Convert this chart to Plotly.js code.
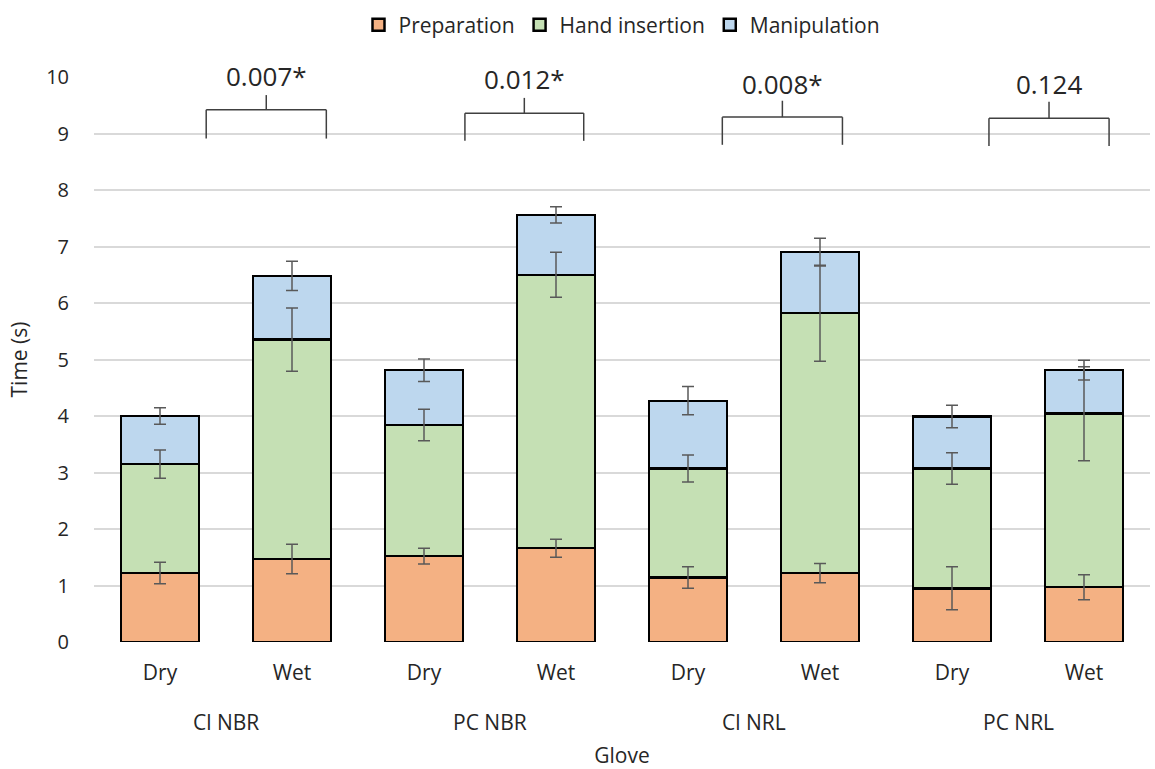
<!DOCTYPE html>
<html>
<head>
<meta charset="utf-8">
<script src="https://cdn.plot.ly/plotly-3.0.1.min.js"></script>
<style>html,body{margin:0;padding:0;background:#fff;}#chart{width:1155px;height:769px;}</style>
</head>
<body>
<div id="chart"></div>
<script>
// ---- data ----
const gloves = ["Cl NBR", "PC NBR", "Cl NRL", "PC NRL"];
const conditions = ["Dry", "Wet"];
const seriesNames = ["Preparation", "Hand insertion", "Manipulation"];
// mean times (s), order: Cl NBR Dry, Cl NBR Wet, PC NBR Dry, PC NBR Wet, Cl NRL Dry, Cl NRL Wet, PC NRL Dry, PC NRL Wet
const preparation   = [1.22, 1.47, 1.52, 1.66, 1.14, 1.22, 0.95, 0.97];
const handInsertion = [1.93, 3.88, 2.32, 4.84, 1.93, 4.60, 2.12, 3.07];
const manipulation  = [0.85, 1.13, 0.97, 1.06, 1.20, 1.08, 0.92, 0.77];
const errPreparation   = [0.19, 0.26, 0.14, 0.16, 0.19, 0.17, 0.38, 0.22];
const errHandInsertion = [0.25, 0.56, 0.28, 0.40, 0.24, 0.85, 0.28, 0.83];
const errManipulation  = [0.145, 0.26, 0.20, 0.145, 0.25, 0.245, 0.20, 0.175];
// significance brackets (Dry vs Wet per glove)
const pValues = ["0.007*", "0.012*", "0.008*", "0.124"];
const bracketLeft   = [0.35, 2.31, 4.26, 6.28];
const bracketRight  = [1.26, 3.21, 5.17, 7.19];
const bracketBottom = [8.91, 8.87, 8.80, 8.78];
const bracketLevel  = [9.42, 9.36, 9.29, 9.27];
const bracketTick   = [9.68, 9.63, 9.58, 9.56];
const pValueY       = [10.02, 9.96, 9.88, 9.88];

// ---- build ----
const yMax = 10;
const cats = [], tickText = [];
gloves.forEach(g => conditions.forEach(c => { cats.push(g + " | " + c); tickText.push(c); }));

const colors = ["#F4B183", "#C5E0B4", "#BDD7EE"];
const values = [preparation, handInsertion, manipulation];
const errs = [errPreparation, errHandInsertion, errManipulation];

const traces = [];
values.forEach((v, i) => {
  traces.push({
    type: "bar", name: seriesNames[i], x: cats, y: v,
    marker: {color: colors[i], line: {color: "#000000", width: 2.5}},
    hoverinfo: "name+y"
  });
});
// error bars on top of stacked segments
let cum = cats.map(() => 0);
values.forEach((v, i) => {
  cum = cum.map((c, k) => c + v[k]);
  traces.push({
    type: "scatter", mode: "markers", x: cats, y: cum.slice(),
    marker: {size: 1, opacity: 0},
    error_y: {type: "data", array: errs[i], visible: true, color: "#595959", thickness: 1.5, width: 6},
    showlegend: false, hoverinfo: "skip"
  });
});

const shapes = [], annotations = [];
const lineStyle = {color: "#404040", width: 1.5};
pValues.forEach((p, i) => {
  const l = bracketLeft[i], r = bracketRight[i], m = (l + r) / 2;
  shapes.push({type: "line", xref: "x", yref: "y", x0: l, x1: l, y0: bracketBottom[i], y1: bracketLevel[i], line: lineStyle});
  shapes.push({type: "line", xref: "x", yref: "y", x0: r, x1: r, y0: bracketBottom[i], y1: bracketLevel[i], line: lineStyle});
  shapes.push({type: "line", xref: "x", yref: "y", x0: l, x1: r, y0: bracketLevel[i], y1: bracketLevel[i], line: lineStyle});
  shapes.push({type: "line", xref: "x", yref: "y", x0: m, x1: m, y0: bracketLevel[i], y1: bracketTick[i], line: lineStyle});
  annotations.push({xref: "x", yref: "paper", x: m, y: pValueY[i] / yMax, text: p, showarrow: false,
    font: {family: "Open Sans, sans-serif", size: 26, color: "#262626"}, xanchor: "center", yanchor: "middle"});
});
gloves.forEach((g, gi) => {
  annotations.push({xref: "x", yref: "paper", x: gi * conditions.length + (conditions.length - 1) / 2, y: -0.1416,
    text: g, showarrow: false, xanchor: "center", yanchor: "middle",
    font: {family: "Open Sans, sans-serif", size: 21, color: "#262626"}});
});

const layout = {
  width: 1155, height: 769,
  margin: {l: 94, r: 5, t: 77, b: 127},
  paper_bgcolor: "#ffffff", plot_bgcolor: "#ffffff",
  barmode: "stack", bargap: 0.41,
  font: {family: "Open Sans, sans-serif", size: 20, color: "#262626"},
  showlegend: true,
  legend: {orientation: "h", x: 0.5, xanchor: "center", y: 1.092, yanchor: "middle",
    font: {size: 21, color: "#262626"}, traceorder: "normal", itemwidth: 30},
  xaxis: {type: "category", tickmode: "array", tickvals: cats, ticktext: tickText,
    range: [-0.5, cats.length - 0.5],
    showgrid: false, showline: false, zeroline: false,
    ticks: "outside", ticklen: 12, tickcolor: "rgba(0,0,0,0)",
    tickfont: {size: 21, color: "#262626"},
    title: {text: "Glove", font: {size: 21, color: "#262626"}, standoff: 66},
    automargin: false},
  yaxis: {range: [0, yMax], dtick: 1, showgrid: true, gridcolor: "#d9d9d9", gridwidth: 2,
    zeroline: false, showline: false,
    ticks: "outside", ticklen: 20, tickcolor: "rgba(0,0,0,0)",
    tickfont: {size: 20, color: "#262626"},
    title: {text: "Time (s)", font: {size: 21, color: "#262626"}, standoff: 12},
    automargin: false},
  shapes: shapes,
  annotations: annotations
};

Plotly.newPlot("chart", traces, layout, {displayModeBar: false, staticPlot: true});
</script>
</body>
</html>
